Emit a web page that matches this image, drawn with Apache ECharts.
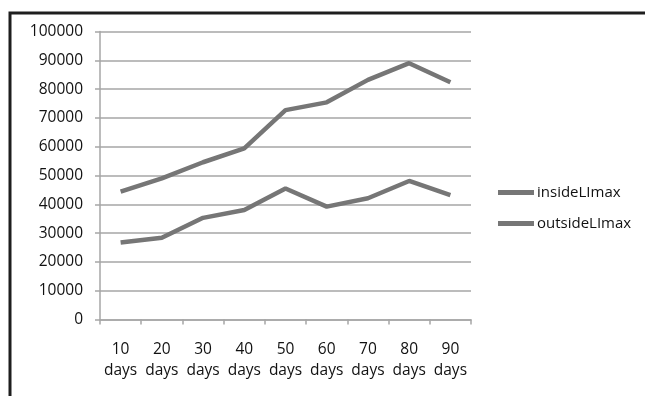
<!DOCTYPE html>
<html>
<head>
<meta charset="utf-8">
<script src="https://cdn.jsdelivr.net/npm/echarts@6/dist/echarts.min.js"></script>
<style>
  html, body { margin: 0; padding: 0; background: #fff; }
  #chart { width: 645px; height: 396px; }
</style>
</head>
<body>
<div id="chart"></div>
<script>
// Sampling intervals
var categories = ['10\ndays', '20\ndays', '30\ndays', '40\ndays', '50\ndays', '60\ndays', '70\ndays', '80\ndays', '90\ndays'];
// Peak LI per interval
var insideLImax = [44400, 49000, 54600, 59400, 72700, 75400, 83200, 89000, 82400];
var outsideLImax = [26700, 28400, 35300, 38000, 45500, 39200, 42100, 48100, 43200];
var seriesNames = ['insideLImax', 'outsideLImax'];

var FONT = '"Open Sans", "Noto Sans", sans-serif';
var lineColor = '#767676';
var axisGrey = '#a6a6a6';

var chart = echarts.init(document.getElementById('chart'), null, { renderer: 'canvas' });

chart.setOption({
  backgroundColor: '#ffffff',
  animation: false,
  graphic: [{
    type: 'rect',
    shape: { x: 10, y: 13, width: 800, height: 600 },
    style: { fill: 'none', stroke: '#1e1e1e', lineWidth: 3 },
    z: 0
  }],
  grid: { left: 100, right: 174, top: 31.5, bottom: 76.5, containLabel: false },
  legend: {
    orient: 'vertical',
    left: 498,
    top: 185,
    padding: 0,
    itemWidth: 36,
    itemHeight: 5,
    itemGap: 16,
    icon: 'rect',
    textStyle: { fontFamily: FONT, fontSize: 15, color: '#111', padding: [0, 0, 0, -2] },
    data: seriesNames
  },
  xAxis: {
    type: 'category',
    data: categories,
    boundaryGap: true,
    axisLine: { lineStyle: { color: axisGrey, width: 1.5 } },
    axisTick: { show: true, length: 5, lineStyle: { color: axisGrey, width: 1.5 } },
    axisLabel: { margin: 20, fontFamily: FONT, fontSize: 15.5, color: '#111', lineHeight: 21, interval: 0 },
    splitLine: { show: false }
  },
  yAxis: {
    type: 'value',
    min: 0,
    max: 100000,
    interval: 10000,
    axisLine: { show: true, lineStyle: { color: axisGrey, width: 1.5 } },
    axisTick: { show: true, length: 5, lineStyle: { color: axisGrey, width: 1.5 } },
    axisLabel: {
      margin: 17, fontFamily: FONT, fontSize: 15.5, color: '#111',
      formatter: function (v) { return String(v); }
    },
    splitLine: { show: true, lineStyle: { color: axisGrey, width: 1.5 } }
  },
  series: [
    {
      name: seriesNames[0],
      type: 'line',
      data: insideLImax,
      symbol: 'none',
      color: lineColor,
      lineStyle: { color: lineColor, width: 4.5 }
    },
    {
      name: seriesNames[1],
      type: 'line',
      data: outsideLImax,
      symbol: 'none',
      color: lineColor,
      lineStyle: { color: lineColor, width: 4.5 }
    }
  ]
});
</script>
</body>
</html>
